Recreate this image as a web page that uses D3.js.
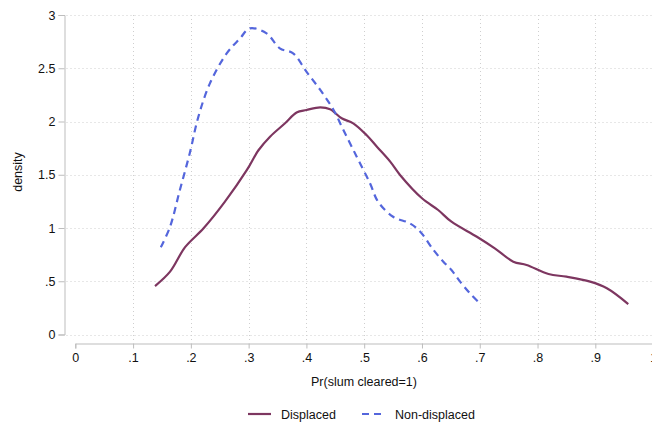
<!DOCTYPE html>
<html>
<head>
<meta charset="utf-8">
<script src="https://cdn.jsdelivr.net/npm/d3@7"></script>
<style>
  html, body { margin: 0; padding: 0; background: #fff; }
  svg text { font-family: "Liberation Sans", Arial, Helvetica, sans-serif; fill: #111; }
</style>
</head>
<body>
<div id="chart"></div>
<script>
// ---- data ----
const displacedX = [0.138,0.164,0.190,0.222,0.259,0.297,0.317,0.337,0.363,0.383,0.400,0.424,0.441,0.461,0.481,0.504,0.522,0.545,0.562,0.600,0.628,0.651,0.695,0.726,0.758,0.781,0.819,0.850,0.891,0.920,0.957];
const displacedY = [0.455,0.59,0.82,0.997,1.247,1.545,1.73,1.857,1.983,2.085,2.108,2.133,2.115,2.03,1.983,1.873,1.763,1.623,1.498,1.279,1.169,1.059,0.918,0.809,0.684,0.653,0.568,0.543,0.496,0.434,0.286];
const nonDisplacedX = [0.148,0.164,0.181,0.198,0.213,0.233,0.262,0.285,0.302,0.331,0.354,0.377,0.400,0.424,0.447,0.464,0.487,0.510,0.524,0.550,0.579,0.597,0.620,0.637,0.651,0.666,0.683,0.699];
const nonDisplacedY = [0.819,1.012,1.357,1.70,2.045,2.358,2.64,2.78,2.875,2.828,2.687,2.64,2.468,2.296,2.108,1.92,1.67,1.42,1.247,1.106,1.044,0.965,0.793,0.684,0.606,0.496,0.387,0.299];
const xTicks = [0,0.1,0.2,0.3,0.4,0.5,0.6,0.7,0.8,0.9,1];
const xTickLabels = ["0",".1",".2",".3",".4",".5",".6",".7",".8",".9","1"];
const yTicks = [0,0.5,1,1.5,2,2.5,3];
const yTickLabels = ["0",".5","1","1.5","2","2.5","3"];
const seriesNames = ["Displaced","Non-displaced"];
const seriesColors = ["#7d3660","#5466dc"];

const W = 652, H = 428;
const svg = d3.select("#chart").append("svg").attr("width", W).attr("height", H);

const x = d3.scaleLinear().domain([0,1]).range([75.3,653.1]);
const y = d3.scaleLinear().domain([0,3]).range([334.5,15]);
const yAxisX = 64.5, xAxisY = 343.5;

// gridlines
const grid = svg.append("g").attr("stroke","#cfcfcf").attr("stroke-width",1).attr("stroke-dasharray","1,3");
yTicks.forEach(t => {
  grid.append("line").attr("x1", yAxisX+2).attr("x2", W).attr("y1", Math.round(y(t))+0.5).attr("y2", Math.round(y(t))+0.5);
});
xTicks.slice(1,-1).forEach(t => {
  grid.append("line").attr("x1", Math.round(x(t))+0.5).attr("x2", Math.round(x(t))+0.5).attr("y1", y(3)).attr("y2", xAxisY-2);
});

// y axis
const yAxis = d3.axisLeft(y).tickValues(yTicks).tickFormat((d,i)=>yTickLabels[i]).tickSizeOuter(0).tickSize(6).tickPadding(3);
const gy = svg.append("g").attr("transform", `translate(${yAxisX},0)`).call(yAxis);
gy.select(".domain").attr("stroke","#bdbdbd");
gy.selectAll(".tick line").attr("stroke","#bdbdbd");
gy.selectAll(".tick text").attr("font-size","12.5px").attr("fill","#111");

// x axis
const xAxis = d3.axisBottom(x).tickValues(xTicks).tickFormat((d,i)=>xTickLabels[i]).tickSizeOuter(0).tickSize(5).tickPadding(5);
const gx = svg.append("g").attr("transform", `translate(0,${xAxisY})`).call(xAxis);
gx.select(".domain").attr("stroke","#bdbdbd");
gx.selectAll(".tick line").attr("stroke","#bdbdbd");
gx.selectAll(".tick text").attr("font-size","12.5px").attr("fill","#111");

// axis titles
svg.append("text").attr("x", 364).attr("y", 386).attr("text-anchor","middle").attr("font-size","12.5px").text("Pr(slum cleared=1)");
svg.append("text").attr("transform","translate(22,172) rotate(-90)").attr("text-anchor","middle").attr("font-size","12.5px").text("density");

// lines
const line = d3.line().x(d=>x(d[0])).y(d=>y(d[1])).curve(d3.curveCatmullRom.alpha(0.5));
const dData = displacedX.map((v,i)=>[v,displacedY[i]]);
const nData = nonDisplacedX.map((v,i)=>[v,nonDisplacedY[i]]);
svg.append("path").datum(dData).attr("d", line).attr("fill","none").attr("stroke",seriesColors[0]).attr("stroke-width",2.2).attr("stroke-linejoin","round");
svg.append("path").datum(nData).attr("d", line).attr("fill","none").attr("stroke",seriesColors[1]).attr("stroke-width",2.2).attr("stroke-dasharray","7,5");

// legend
const lg = svg.append("g");
const legendItems = [{x1:248,x2:271,tx:281},{x1:362,x2:386,tx:395}];
legendItems.forEach((it,i)=>{
  lg.append("line").attr("x1",it.x1).attr("x2",it.x2).attr("y1",414).attr("y2",414)
    .attr("stroke",seriesColors[i]).attr("stroke-width",2.2).attr("stroke-dasharray", i===1?"7,5":null);
  lg.append("text").attr("x",it.tx).attr("y",418.5).attr("font-size","12.5px").text(seriesNames[i]);
});
</script>
</body>
</html>
